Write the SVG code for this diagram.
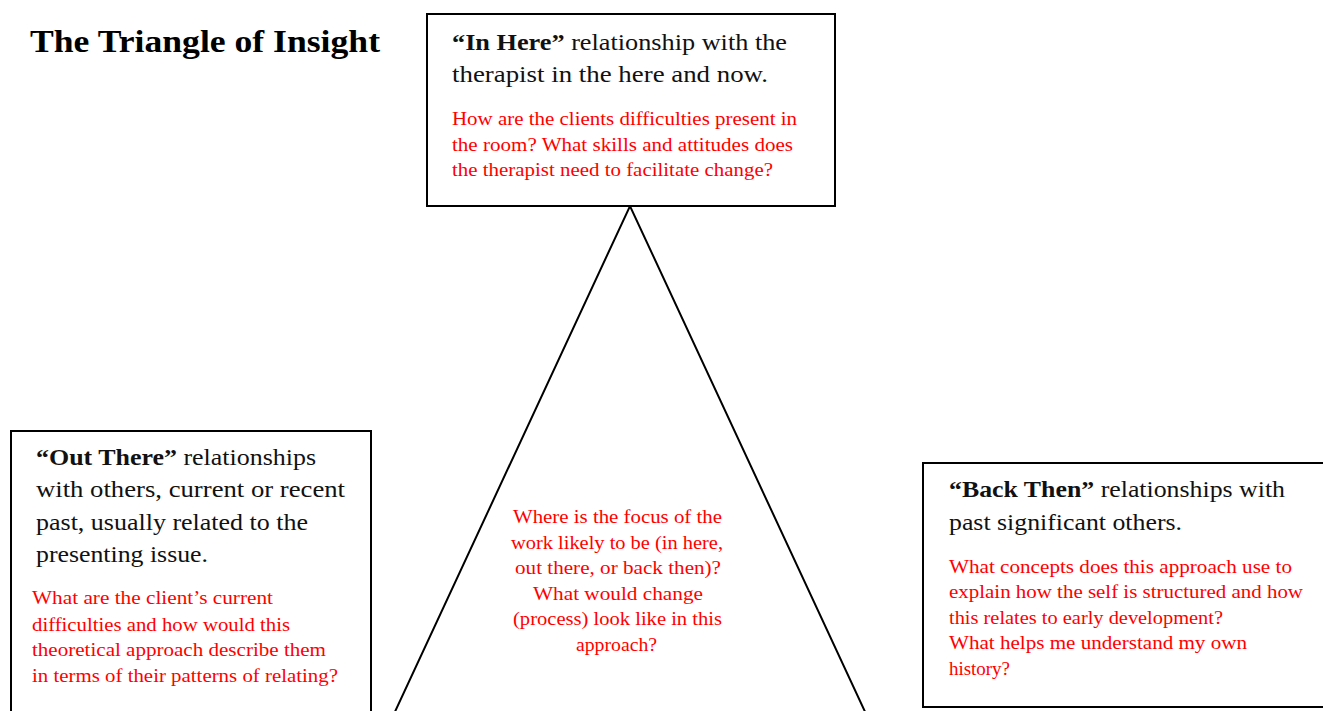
<svg xmlns="http://www.w3.org/2000/svg" width="1323" height="711" viewBox="0 0 1323 711">
<style>
.box{fill:#fff;stroke:#000;stroke-width:2}
.conn{fill:none;stroke:#000;stroke-width:2}
text{font-family:"Liberation Serif","Times New Roman",serif}
.title{font-size:32px;font-weight:bold;fill:#000}
.blk{font-size:24px;fill:#111}
.b{font-weight:bold}
.red{font-size:18px;fill:#ff0000}
.ctr{text-anchor:middle}
</style>
<rect width="1323" height="711" fill="#fff"/>
<text class="title" x="30" y="52" textLength="350" lengthAdjust="spacingAndGlyphs">The Triangle of Insight</text>
<g id="connectors">
<polyline class="conn" points="393,716 630,206 867,716"/>
</g>
<g id="node-in-here">
<rect class="box" x="427" y="14" width="408" height="192"/>
<text class="blk" x="452" y="50" textLength="335" lengthAdjust="spacingAndGlyphs"><tspan class="b">“In Here”</tspan> relationship with the</text>
<text class="blk" x="452" y="82" textLength="316" lengthAdjust="spacingAndGlyphs">therapist in the here and now.</text>
<text class="red" x="452" y="125" textLength="345" lengthAdjust="spacingAndGlyphs">How are the clients difficulties present in</text>
<text class="red" x="452" y="151" textLength="341" lengthAdjust="spacingAndGlyphs">the room? What skills and attitudes does</text>
<text class="red" x="452" y="176" textLength="321" lengthAdjust="spacingAndGlyphs">the therapist need to facilitate change?</text>
</g>
<g id="node-out-there">
<rect class="box" x="11" y="431" width="360" height="290"/>
<text class="blk" x="36" y="465" textLength="280" lengthAdjust="spacingAndGlyphs"><tspan class="b">“Out There”</tspan> relationships</text>
<text class="blk" x="36" y="497" textLength="309" lengthAdjust="spacingAndGlyphs">with others, current or recent</text>
<text class="blk" x="36" y="530" textLength="272" lengthAdjust="spacingAndGlyphs">past, usually related to the</text>
<text class="blk" x="36" y="562" textLength="172" lengthAdjust="spacingAndGlyphs">presenting issue.</text>
<text class="red" x="32" y="604" textLength="241" lengthAdjust="spacingAndGlyphs">What are the client’s current</text>
<text class="red" x="32" y="631" textLength="258" lengthAdjust="spacingAndGlyphs">difficulties and how would this</text>
<text class="red" x="32" y="656" textLength="294" lengthAdjust="spacingAndGlyphs">theoretical approach describe them</text>
<text class="red" x="32" y="682" textLength="306" lengthAdjust="spacingAndGlyphs">in terms of their patterns of relating?</text>
</g>
<g id="node-focus">
<text class="red ctr" x="617.5" y="523" textLength="209" lengthAdjust="spacingAndGlyphs">Where is the focus of the</text>
<text class="red ctr" x="617" y="549" textLength="212" lengthAdjust="spacingAndGlyphs">work likely to be (in here,</text>
<text class="red ctr" x="618" y="574" textLength="206" lengthAdjust="spacingAndGlyphs">out there, or back then)?</text>
<text class="red ctr" x="618" y="600" textLength="170" lengthAdjust="spacingAndGlyphs">What would change</text>
<text class="red ctr" x="617.5" y="625" textLength="209" lengthAdjust="spacingAndGlyphs">(process) look like in this</text>
<text class="red ctr" x="616.5" y="651" textLength="81" lengthAdjust="spacingAndGlyphs">approach?</text>
</g>
<g id="node-back-then">
<rect class="box" x="923" y="463" width="420" height="244"/>
<text class="blk" x="949" y="497" textLength="336" lengthAdjust="spacingAndGlyphs"><tspan class="b">“Back Then”</tspan> relationships with</text>
<text class="blk" x="949" y="530" textLength="233" lengthAdjust="spacingAndGlyphs">past significant others.</text>
<text class="red" x="949" y="573" textLength="343" lengthAdjust="spacingAndGlyphs">What concepts does this approach use to</text>
<text class="red" x="949" y="598" textLength="354" lengthAdjust="spacingAndGlyphs">explain how the self is structured and how</text>
<text class="red" x="949" y="624" textLength="274" lengthAdjust="spacingAndGlyphs">this relates to early development?</text>
<text class="red" x="949" y="649" textLength="298" lengthAdjust="spacingAndGlyphs">What helps me understand my own</text>
<text class="red" x="949" y="675" textLength="61" lengthAdjust="spacingAndGlyphs">history?</text>
</g>
</svg>
